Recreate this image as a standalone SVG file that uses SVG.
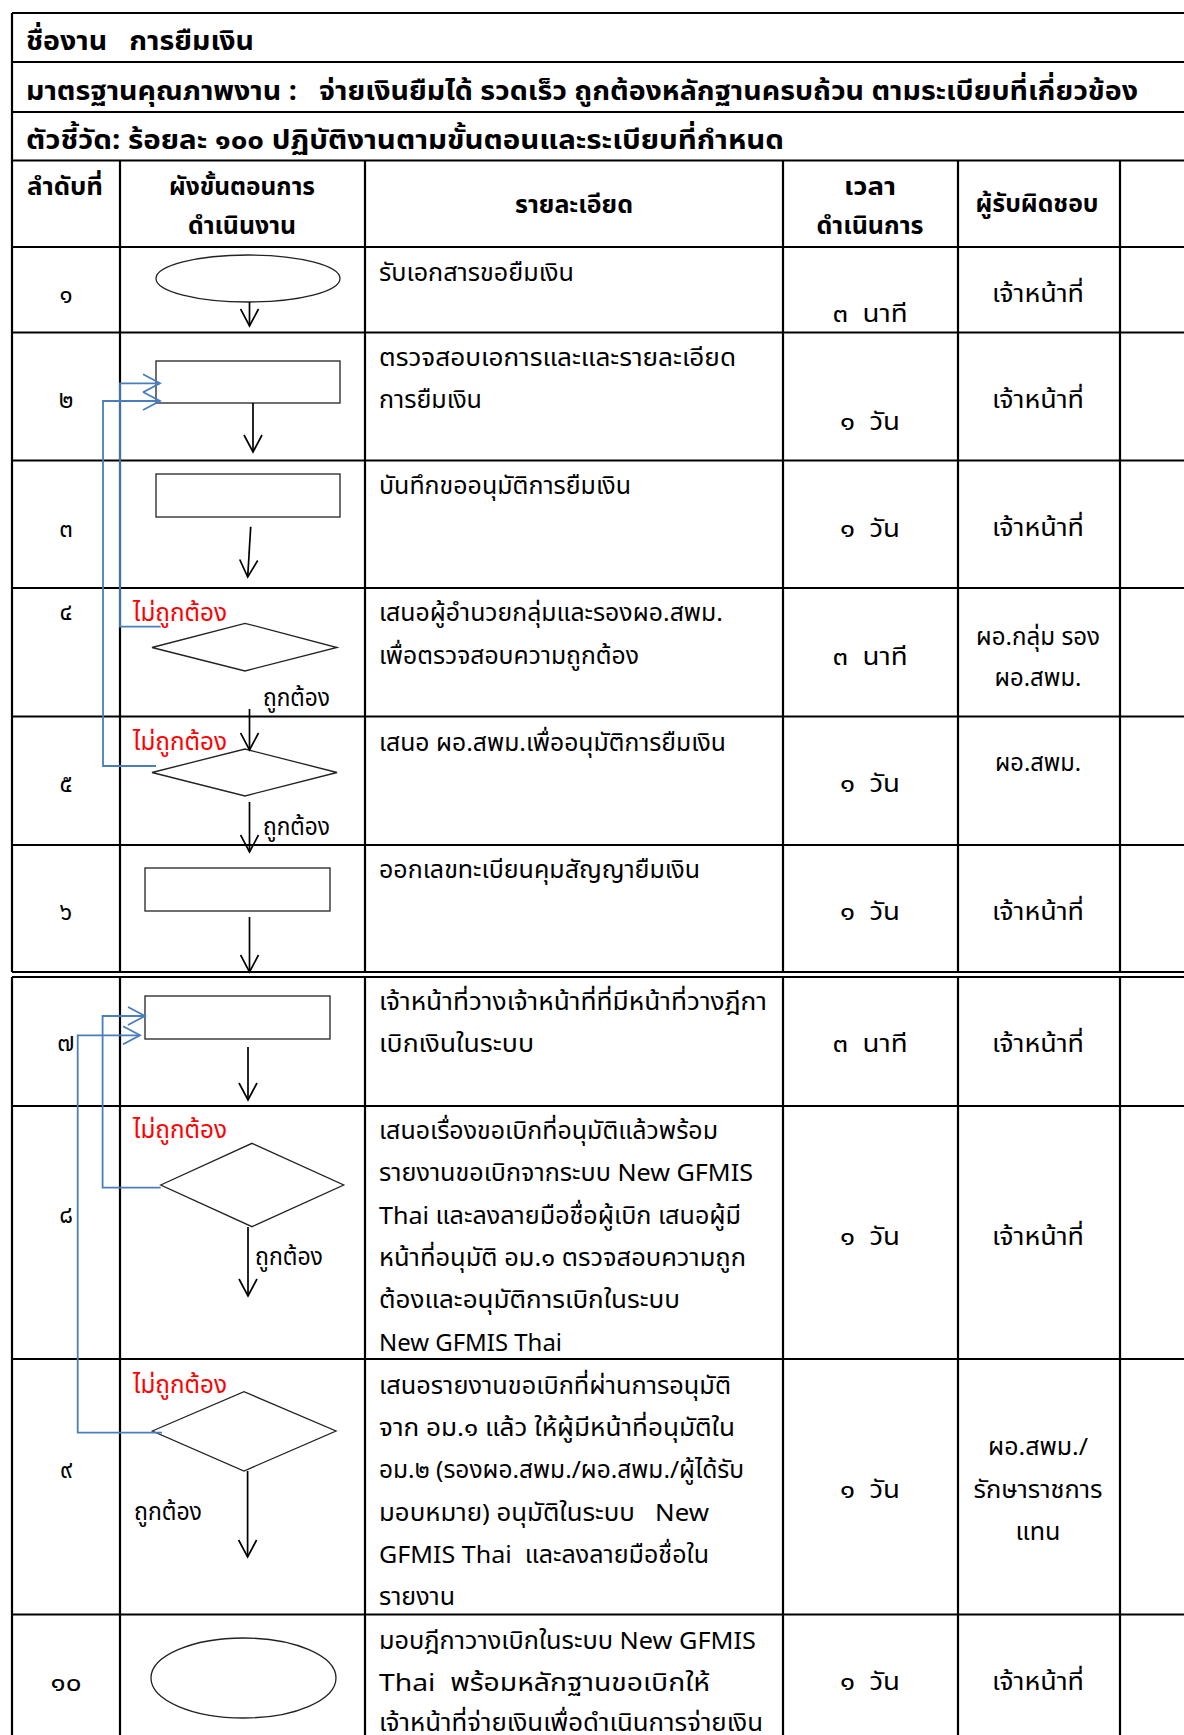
<svg xmlns="http://www.w3.org/2000/svg" width="1184" height="1735" viewBox="0 0 1184 1735" xml:space="preserve">
<style>
text { font-family: "Noto Sans Thai", "Leelawadee UI", Tahoma, "Noto Sans", sans-serif; font-size: 24px; fill: #000; white-space: pre; }
.b { font-weight: bold; font-size: 27px; }
.h { font-weight: bold; font-size: 24px; }
.c { text-anchor: middle; }
.r { fill: #ff0000; }
.grid { stroke: #000; stroke-width: 2.2; fill: none; }
.shape { fill: #fff; stroke: #222; stroke-width: 1.3; }
.arr { stroke: #000; stroke-width: 1.7; fill: none; marker-end: url(#ab); }
.blua { stroke: #4a7ebb; stroke-width: 1.8; fill: none; marker-end: url(#abl); }
</style>
<defs>
<marker id="ab" viewBox="0 0 20 20" refX="18" refY="10" markerWidth="20" markerHeight="20" markerUnits="userSpaceOnUse" orient="auto"><path d="M1,1 L18,10 L1,19" fill="none" stroke="#000" stroke-width="1.7"/></marker>
<marker id="abl" viewBox="0 0 20 20" refX="18" refY="10" markerWidth="20" markerHeight="20" markerUnits="userSpaceOnUse" orient="auto"><path d="M1,1 L18,10 L1,19" fill="none" stroke="#4a7ebb" stroke-width="1.8"/></marker>
</defs>
<rect width="1184" height="1735" fill="#fff"/>

<g id="table-grid">
<path class="grid" d="M12,13 H1184 M12,62 H1184 M12,112 H1184 M12,160.5 H1184 M12,247 H1184 M12,332.5 H1184 M12,460.5 H1184 M12,588 H1184 M12,716.5 H1184 M12,845 H1184 M12,972 H1184"/>
<path class="grid" d="M12,13 V972 M120,160.5 V972 M365,160.5 V972 M783,160.5 V972 M958,160.5 V972 M1120,160.5 V972"/>
<path class="grid" d="M12,977 H1184 M12,1106 H1184 M12,1359 H1184 M12,1614.5 H1184"/>
<path class="grid" d="M12,977 V1735 M120,977 V1735 M365,977 V1735 M783,977 V1735 M958,977 V1735 M1120,977 V1735"/>
</g>

<g id="titles">
<text class="b" x="26" y="50" textLength="228" lengthAdjust="spacingAndGlyphs">ชื่องาน   การยืมเงิน</text>
<text class="b" x="26" y="100" textLength="1112" lengthAdjust="spacingAndGlyphs">มาตรฐานคุณภาพงาน :   จ่ายเงินยืมได้ รวดเร็ว ถูกต้องหลักฐานครบถ้วน ตามระเบียบที่เกี่ยวข้อง</text>
<text class="b" x="26" y="149" textLength="758" lengthAdjust="spacingAndGlyphs">ตัวชี้วัด: ร้อยละ ๑๐๐ ปฏิบัติงานตามขั้นตอนและระเบียบที่กำหนด</text>
</g>

<g id="header">
<text class="h c" x="65" y="195" textLength="76" lengthAdjust="spacingAndGlyphs">ลำดับที่</text>
<text class="h c" x="242" y="195" textLength="146" lengthAdjust="spacingAndGlyphs">ผังขั้นตอนการ</text>
<text class="h c" x="242" y="234" textLength="108" lengthAdjust="spacingAndGlyphs">ดำเนินงาน</text>
<text class="h c" x="574" y="213" textLength="118" lengthAdjust="spacingAndGlyphs">รายละเอียด</text>
<text class="h c" x="870" y="195" textLength="52" lengthAdjust="spacingAndGlyphs">เวลา</text>
<text class="h c" x="870" y="234" textLength="107" lengthAdjust="spacingAndGlyphs">ดำเนินการ</text>
<text class="h c" x="1037" y="212" textLength="123" lengthAdjust="spacingAndGlyphs">ผู้รับผิดชอบ</text>
</g>

<g id="row-numbers">
<text class="c" x="66" y="303">๑</text>
<text class="c" x="66" y="408">๒</text>
<text class="c" x="66" y="537">๓</text>
<text class="c" x="66" y="620">๔</text>
<text class="c" x="66" y="792">๕</text>
<text class="c" x="66" y="920">๖</text>
<text class="c" x="66" y="1051">๗</text>
<text class="c" x="66" y="1223">๘</text>
<text class="c" x="66" y="1478">๙</text>
<text class="c" x="66" y="1691" textLength="31" lengthAdjust="spacingAndGlyphs">๑๐</text>
</g>

<g id="details">
<text x="379" y="281" textLength="195" lengthAdjust="spacingAndGlyphs">รับเอกสารขอยืมเงิน</text>
<text x="379" y="366" textLength="357" lengthAdjust="spacingAndGlyphs">ตรวจสอบเอการและและรายละเอียด</text>
<text x="379" y="408" textLength="103" lengthAdjust="spacingAndGlyphs">การยืมเงิน</text>
<text x="379" y="494" textLength="252" lengthAdjust="spacingAndGlyphs">บันทึกขออนุมัติการยืมเงิน</text>
<text x="379" y="621" textLength="344" lengthAdjust="spacingAndGlyphs">เสนอผู้อำนวยกลุ่มและรองผอ.สพม.</text>
<text x="379" y="664" textLength="260" lengthAdjust="spacingAndGlyphs">เพื่อตรวจสอบความถูกต้อง</text>
<text x="379" y="751" textLength="347" lengthAdjust="spacingAndGlyphs">เสนอ ผอ.สพม.เพื่ออนุมัติการยืมเงิน</text>
<text x="379" y="878" textLength="321" lengthAdjust="spacingAndGlyphs">ออกเลขทะเบียนคุมสัญญายืมเงิน</text>
<text x="379" y="1010" textLength="388" lengthAdjust="spacingAndGlyphs">เจ้าหน้าที่วางเจ้าหน้าที่ที่มีหน้าที่วางฎีกา</text>
<text x="379" y="1052" textLength="155" lengthAdjust="spacingAndGlyphs">เบิกเงินในระบบ</text>
<text x="379" y="1139" textLength="339" lengthAdjust="spacingAndGlyphs">เสนอเรื่องขอเบิกที่อนุมัติแล้วพร้อม</text>
<text x="379" y="1181" textLength="374" lengthAdjust="spacingAndGlyphs">รายงานขอเบิกจากระบบ New GFMIS</text>
<text x="379" y="1224" textLength="362" lengthAdjust="spacingAndGlyphs">Thai และลงลายมือชื่อผู้เบิก เสนอผู้มี</text>
<text x="379" y="1266" textLength="367" lengthAdjust="spacingAndGlyphs">หน้าที่อนุมัติ อม.๑ ตรวจสอบความถูก</text>
<text x="379" y="1308" textLength="301" lengthAdjust="spacingAndGlyphs">ต้องและอนุมัติการเบิกในระบบ</text>
<text x="379" y="1351" textLength="183" lengthAdjust="spacingAndGlyphs">New GFMIS Thai</text>
<text x="379" y="1394" textLength="352" lengthAdjust="spacingAndGlyphs">เสนอรายงานขอเบิกที่ผ่านการอนุมัติ</text>
<text x="379" y="1436" textLength="356" lengthAdjust="spacingAndGlyphs">จาก อม.๑ แล้ว ให้ผู้มีหน้าที่อนุมัติใน</text>
<text x="379" y="1478" textLength="365" lengthAdjust="spacingAndGlyphs">อม.๒ (รองผอ.สพม./ผอ.สพม./ผู้ได้รับ</text>
<text x="379" y="1521" textLength="330" lengthAdjust="spacingAndGlyphs">มอบหมาย) อนุมัติในระบบ   New</text>
<text x="379" y="1563" textLength="330" lengthAdjust="spacingAndGlyphs">GFMIS Thai  และลงลายมือชื่อใน</text>
<text x="379" y="1605" textLength="76" lengthAdjust="spacingAndGlyphs">รายงาน</text>
<text x="379" y="1649" textLength="377" lengthAdjust="spacingAndGlyphs">มอบฎีกาวางเบิกในระบบ New GFMIS</text>
<text x="379" y="1691" textLength="331" lengthAdjust="spacingAndGlyphs">Thai  พร้อมหลักฐานขอเบิกให้</text>
<text x="379" y="1731" textLength="384" lengthAdjust="spacingAndGlyphs">เจ้าหน้าที่จ่ายเงินเพื่อดำเนินการจ่ายเงิน</text>
</g>

<g id="times">
<text class="c" x="870" y="322" textLength="75" lengthAdjust="spacingAndGlyphs">๓  นาที</text>
<text class="c" x="870" y="430" textLength="60" lengthAdjust="spacingAndGlyphs">๑  วัน</text>
<text class="c" x="870" y="537" textLength="60" lengthAdjust="spacingAndGlyphs">๑  วัน</text>
<text class="c" x="870" y="665" textLength="75" lengthAdjust="spacingAndGlyphs">๓  นาที</text>
<text class="c" x="870" y="792" textLength="60" lengthAdjust="spacingAndGlyphs">๑  วัน</text>
<text class="c" x="870" y="920" textLength="60" lengthAdjust="spacingAndGlyphs">๑  วัน</text>
<text class="c" x="870" y="1052" textLength="75" lengthAdjust="spacingAndGlyphs">๓  นาที</text>
<text class="c" x="870" y="1245" textLength="60" lengthAdjust="spacingAndGlyphs">๑  วัน</text>
<text class="c" x="870" y="1498" textLength="60" lengthAdjust="spacingAndGlyphs">๑  วัน</text>
<text class="c" x="870" y="1690" textLength="60" lengthAdjust="spacingAndGlyphs">๑  วัน</text>
</g>

<g id="responsible">
<text class="c" x="1038" y="302" textLength="92" lengthAdjust="spacingAndGlyphs">เจ้าหน้าที่</text>
<text class="c" x="1038" y="408" textLength="92" lengthAdjust="spacingAndGlyphs">เจ้าหน้าที่</text>
<text class="c" x="1038" y="536" textLength="92" lengthAdjust="spacingAndGlyphs">เจ้าหน้าที่</text>
<text class="c" x="1038" y="645" textLength="124" lengthAdjust="spacingAndGlyphs">ผอ.กลุ่ม รอง</text>
<text class="c" x="1038" y="686" textLength="87" lengthAdjust="spacingAndGlyphs">ผอ.สพม.</text>
<text class="c" x="1038" y="771" textLength="86" lengthAdjust="spacingAndGlyphs">ผอ.สพม.</text>
<text class="c" x="1038" y="920" textLength="92" lengthAdjust="spacingAndGlyphs">เจ้าหน้าที่</text>
<text class="c" x="1038" y="1052" textLength="92" lengthAdjust="spacingAndGlyphs">เจ้าหน้าที่</text>
<text class="c" x="1038" y="1245" textLength="92" lengthAdjust="spacingAndGlyphs">เจ้าหน้าที่</text>
<text class="c" x="1038" y="1455" textLength="100" lengthAdjust="spacingAndGlyphs">ผอ.สพม./</text>
<text class="c" x="1038" y="1498" textLength="129" lengthAdjust="spacingAndGlyphs">รักษาราชการ</text>
<text class="c" x="1038" y="1540" textLength="45" lengthAdjust="spacingAndGlyphs">แทน</text>
<text class="c" x="1038" y="1690" textLength="92" lengthAdjust="spacingAndGlyphs">เจ้าหน้าที่</text>
</g>

<g id="node-1"><ellipse class="shape" cx="248" cy="278.5" rx="92" ry="23.5"/></g>
<g id="node-2"><rect class="shape" x="156" y="361" width="184" height="42"/></g>
<g id="node-3"><rect class="shape" x="156" y="474" width="184" height="43"/></g>
<g id="node-4"><polygon class="shape" points="152,647.5 245,623.3 337,647.5 245,671"/>
<text class="r" x="133" y="621" textLength="94" lengthAdjust="spacingAndGlyphs">ไม่ถูกต้อง</text><text x="263" y="706" textLength="67" lengthAdjust="spacingAndGlyphs">ถูกต้อง</text></g>
<g id="node-5"><polygon class="shape" points="152,772.5 245,749 337,772.5 245,796"/>
<text class="r" x="133" y="750" textLength="94" lengthAdjust="spacingAndGlyphs">ไม่ถูกต้อง</text><text x="263" y="835" textLength="67" lengthAdjust="spacingAndGlyphs">ถูกต้อง</text></g>
<g id="node-6"><rect class="shape" x="145" y="868" width="185" height="43"/></g>
<g id="node-7"><rect class="shape" x="145" y="996" width="185" height="43"/></g>
<g id="node-8"><polygon class="shape" points="160.7,1185 252,1143.3 343.7,1185 252,1226.7"/>
<text class="r" x="133" y="1138" textLength="94" lengthAdjust="spacingAndGlyphs">ไม่ถูกต้อง</text><text x="255" y="1265" textLength="68" lengthAdjust="spacingAndGlyphs">ถูกต้อง</text></g>
<g id="node-9"><polygon class="shape" points="152.3,1431 244,1391.7 336,1431 244,1471"/>
<text class="r" x="133" y="1393" textLength="94" lengthAdjust="spacingAndGlyphs">ไม่ถูกต้อง</text><text x="134" y="1520" textLength="68" lengthAdjust="spacingAndGlyphs">ถูกต้อง</text></g>
<g id="node-10"><ellipse class="shape" cx="243.5" cy="1678" rx="92.5" ry="40"/></g>

<g id="connectors">
<path class="arr" d="M249.5,302 V326"/>
<path class="arr" d="M253,403 V452"/>
<path class="arr" d="M250.7,526.7 L247.7,577"/>
<path class="arr" d="M249.5,709 V750"/>
<path class="arr" d="M249.5,802 V852"/>
<path class="arr" d="M249.5,917 V972"/>
<path class="arr" d="M248,1047 V1100"/>
<path class="arr" d="M248,1227 V1296"/>
<path class="arr" d="M247.6,1471 V1557"/>
<path class="blua" d="M160.7,626.7 H120 V383.3 H160"/>
<path class="blua" d="M156,766 H103 V401 H160"/>
<path class="blua" d="M160.7,1187.7 H102.6 V1016 H145"/>
<path class="blua" d="M162,1432.7 H77.7 V1035.3 H140"/>
</g>
</svg>
